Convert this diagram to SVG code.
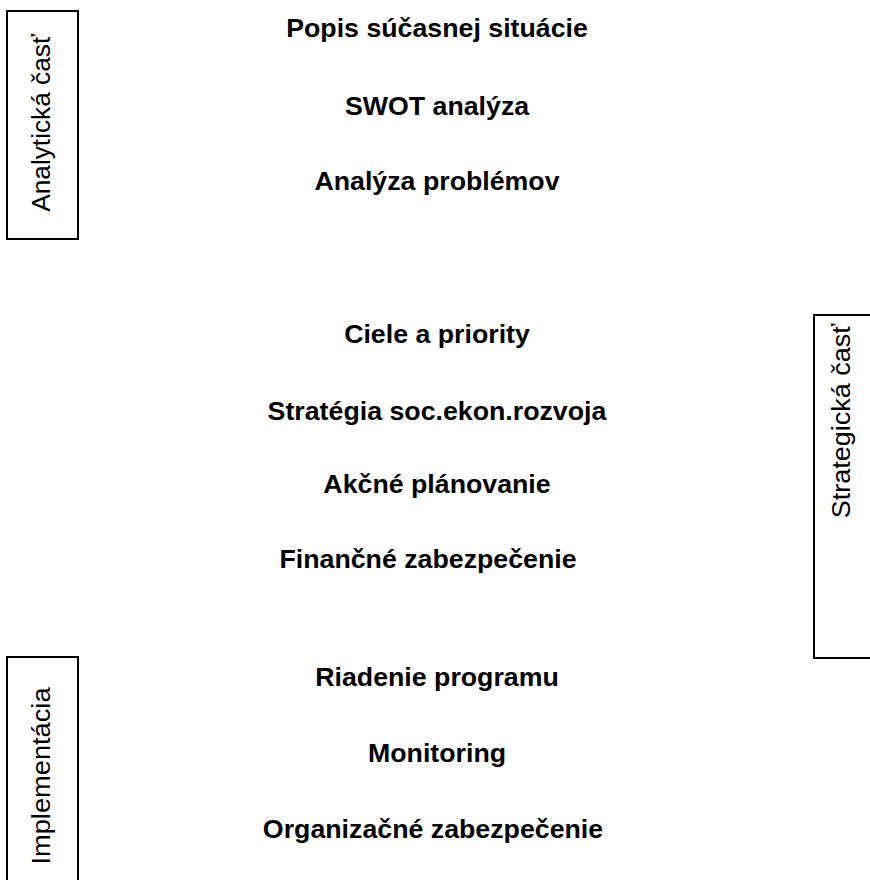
<svg xmlns="http://www.w3.org/2000/svg" width="870" height="880" viewBox="0 0 870 880">
<style>
.box{fill:none;stroke:#000;stroke-width:2}
.side{font-family:"Liberation Sans",Arial,sans-serif;font-size:25px;fill:#000;text-anchor:middle}
.item{font-family:"Liberation Sans",Arial,sans-serif;font-size:25px;font-weight:bold;fill:#000;text-anchor:middle}
</style>
<rect width="870" height="880" fill="#fff"/>
<g id="analyticka">
<rect class="box" x="7" y="11" width="71" height="228"/>
<text class="side" transform="translate(50,123) rotate(-90) scale(1.05,1)">Analytická časť</text>
</g>
<g id="strategicka">
<rect class="box" x="814" y="315" width="80" height="343"/>
<text class="side" transform="translate(850,421) rotate(-90) scale(1.08,1)">Strategická časť</text>
</g>
<g id="implementacia">
<rect class="box" x="7" y="657" width="71" height="250"/>
<text class="side" transform="translate(50,776) rotate(-90) scale(1.09,1)">Implementácia</text>
</g>
<g id="items">
<text class="item" transform="translate(437,37) scale(1.07,1)">Popis súčasnej situácie</text>
<text class="item" transform="translate(437,115) scale(1.07,1)">SWOT analýza</text>
<text class="item" transform="translate(437,190) scale(1.07,1)">Analýza problémov</text>
<text class="item" transform="translate(437,343) scale(1.07,1)">Ciele a priority</text>
<text class="item" transform="translate(437,420) scale(1.07,1)">Stratégia soc.ekon.rozvoja</text>
<text class="item" transform="translate(437,493) scale(1.07,1)">Akčné plánovanie</text>
<text class="item" transform="translate(428,568) scale(1.07,1)">Finančné zabezpečenie</text>
<text class="item" transform="translate(437,686) scale(1.07,1)">Riadenie programu</text>
<text class="item" transform="translate(437,762) scale(1.07,1)">Monitoring</text>
<text class="item" transform="translate(433,838) scale(1.07,1)">Organizačné zabezpečenie</text>
</g>
<g id="connectors"></g>
</svg>
